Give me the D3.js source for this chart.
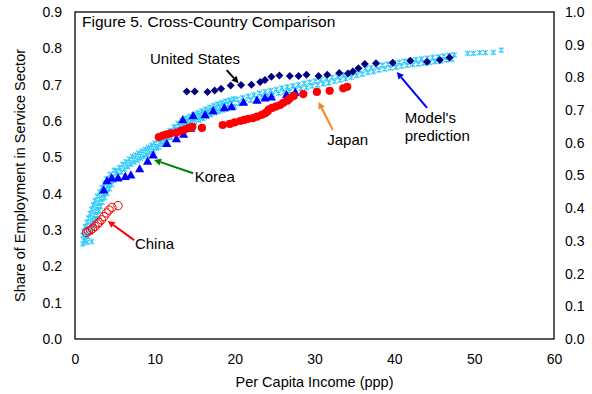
<!DOCTYPE html>
<html>
<head>
<meta charset="utf-8">
<script src="https://cdn.jsdelivr.net/npm/d3@7"></script>
<style>
  body { margin: 0; background: #fff; }
  text { font-family: Arial, "Liberation Sans", sans-serif; fill: #000; }
</style>
</head>
<body>
<svg id="chart" width="592" height="394"></svg>
<script>
// ---- data ----------------------------------------------------------------
const xTicks = [0, 10, 20, 30, 40, 50, 60];
const yTicksLeft = [0, 0.1, 0.2, 0.3, 0.4, 0.5, 0.6, 0.7, 0.8, 0.9];
const yTicksRight = [0, 0.1, 0.2, 0.3, 0.4, 0.5, 0.6, 0.7, 0.8, 0.9, 1.0];

// [per capita income (ppp, thousands), share of employment in services]
const unitedStates = [
  [14.0,0.681],[15.0,0.681],[16.6,0.680],[17.5,0.684],[18.3,0.689],[19.5,0.698],
  [20.8,0.699],[22.1,0.700],[23.2,0.707],[23.8,0.713],[24.6,0.722],[25.6,0.725],
  [26.9,0.724],[28.0,0.724],[29.0,0.727],[30.5,0.724],[31.6,0.727],[33.1,0.732],
  [34.2,0.731],[34.8,0.736],[35.5,0.745],[36.3,0.757],[37.7,0.759],[39.8,0.760],
  [42.0,0.766],[44.1,0.763],[45.7,0.768],[46.9,0.775]
];

const japan = [
  [10.5,0.556],[11.0,0.560],[11.5,0.563],[12.0,0.566],[12.7,0.568],[13.3,0.573],
  [13.8,0.577],[14.3,0.581],[14.7,0.584],[15.9,0.581],[18.5,0.589],[19.4,0.592],
  [20.0,0.596],[20.7,0.600],[21.2,0.603],[21.7,0.606],[22.3,0.608],[22.8,0.612],
  [23.4,0.617],[23.8,0.621],[24.1,0.626],[24.3,0.632],[24.7,0.636],[25.2,0.640],
  [25.7,0.644],[26.1,0.650],[26.6,0.656],[26.9,0.662],[27.4,0.669],[28.6,0.674],
  [30.3,0.680],[31.9,0.683],[33.6,0.690],[34.1,0.694]
];

const korea = [
  [3.6,0.410],[4.0,0.435],[4.6,0.443],[5.4,0.443],[6.3,0.447],[7.0,0.451],
  [8.1,0.468],[9.1,0.489],[9.8,0.506],[11.5,0.538],[12.7,0.551],[13.6,0.563],
  [14.5,0.580],[13.5,0.603],[14.8,0.614],[16.3,0.617],[17.3,0.628],[18.7,0.636],
  [19.6,0.639],[21.1,0.651],[22.8,0.657],[23.8,0.663],[24.6,0.666],[26.5,0.672],
  [27.6,0.678]
];

const china = [
  [1.44,0.293],[1.69,0.297],[1.94,0.300],[2.19,0.304],[2.51,0.310],[2.82,0.317],
  [3.01,0.321],[3.32,0.328],[3.63,0.337],[3.95,0.347],[4.26,0.355],[4.63,0.362],
  [5.39,0.367]
];

const modelPrediction = [
  // low-income stretch
  [1.0,0.285],[1.1,0.297],[1.3,0.309],[1.5,0.321],[1.7,0.333],[1.9,0.345],[2.1,0.357],
  [2.3,0.369],[2.5,0.381],[2.8,0.393],[3.1,0.405],[3.4,0.417],[3.7,0.429],[4.0,0.441],
  [4.4,0.453],[4.9,0.465],
  [1.3,0.272],[1.6,0.282],[1.9,0.293],[2.2,0.305],[2.4,0.317],[2.6,0.329],[2.8,0.341],
  [3.0,0.353],[3.2,0.365],[3.4,0.377],[3.7,0.389],[4.0,0.401],[4.3,0.413],[4.6,0.425],
  [4.9,0.437],[5.3,0.449],
  [1.1,0.270],[1.4,0.284],[1.7,0.300],[2.0,0.315],[2.2,0.328],[2.4,0.341],[2.6,0.352],
  [2.8,0.365],[3.0,0.376],[3.3,0.388],[3.6,0.400],[3.9,0.412],[4.2,0.424],[4.5,0.436],
  [4.8,0.446],
  [2.1,0.268],[1.0,0.262],[1.5,0.266],
  // middle stretch
  [5.2,0.463],[5.6,0.472],[6.0,0.481],[6.4,0.488],[6.8,0.495],[7.2,0.502],[7.6,0.506],
  [8.0,0.512],[8.4,0.517],[8.8,0.522],[9.2,0.527],[9.6,0.533],[10.0,0.539],
  [5.4,0.450],[5.8,0.459],[6.2,0.467],[6.6,0.474],[7.0,0.481],[7.4,0.487],[7.8,0.492],
  [8.2,0.497],[8.6,0.502],[9.0,0.507],[9.4,0.513],[9.8,0.519],[10.2,0.525],
  [10.4,0.548],[10.9,0.556],[11.4,0.565],[11.9,0.574],[12.4,0.584],[12.9,0.594],[13.4,0.601],
  [13.9,0.608],[14.4,0.613],[14.9,0.618],[15.4,0.623],[15.9,0.628],[16.4,0.633],[16.9,0.638],
  [17.4,0.643],[17.9,0.647],[18.4,0.651],[18.9,0.655],[19.4,0.658],[19.9,0.661],
  [10.65,0.541],[11.15,0.550],[11.65,0.559],[12.15,0.568],[12.65,0.578],[13.15,0.587],
  [13.65,0.594],[14.15,0.600],[14.65,0.605],[15.15,0.610],[15.65,0.615],[16.15,0.620],
  [16.65,0.625],[17.15,0.630],[17.65,0.634],[18.15,0.638],[18.65,0.642],[19.15,0.646],
  [19.65,0.649],
  [10.5,0.528],[11.0,0.536],[11.5,0.545],[12.0,0.554],[12.5,0.564],[13.0,0.574],[13.5,0.580],
  [14.0,0.587],[14.5,0.592],[15.0,0.597],[15.5,0.602],[16.0,0.607],[16.5,0.612],[17.0,0.617],
  [17.5,0.622],[18.0,0.626],[18.5,0.630],[19.0,0.634],[19.5,0.637],[20.0,0.640],
  // high-income stretch
  [20.3,0.660],[21.0,0.664],[21.7,0.668],[22.4,0.672],[23.1,0.677],[23.8,0.681],[24.5,0.684],
  [25.2,0.687],[25.9,0.691],[26.6,0.694],[27.3,0.697],[28.0,0.700],[28.7,0.704],[29.4,0.707],
  [30.1,0.710],[30.8,0.714],[31.5,0.717],[32.2,0.720],[32.9,0.723],[33.6,0.727],[34.3,0.731],
  [35.0,0.735],[35.7,0.740],[36.4,0.744],[37.1,0.747],[37.8,0.751],[38.5,0.754],[39.2,0.757],
  [39.9,0.760],[40.6,0.762],[41.3,0.765],[42.0,0.767],[42.7,0.769],[43.4,0.771],[44.1,0.773],
  [44.8,0.775],[45.5,0.777],[46.2,0.779],[46.9,0.781],[47.5,0.782],
  [20.6,0.648],[21.3,0.652],[22.0,0.657],[22.7,0.661],[23.4,0.666],[24.1,0.669],[24.8,0.672],
  [25.5,0.676],[26.2,0.679],[26.9,0.682],[27.6,0.686],[28.3,0.689],[29.0,0.692],[29.7,0.696],
  [30.4,0.699],[31.1,0.702],[31.8,0.705],[32.5,0.709],[33.2,0.712],[33.9,0.716],[34.6,0.720],
  [35.3,0.725],[36.0,0.729],[36.7,0.733],[37.4,0.736],[38.1,0.740],[38.8,0.743],[39.5,0.746],
  [40.2,0.748],[40.9,0.751],[41.6,0.753],[42.3,0.755],[43.0,0.757],[43.7,0.759],[44.4,0.761],
  [45.1,0.763],[45.8,0.765],[46.5,0.768],[47.2,0.770],
  [49.2,0.786],[49.9,0.786],[50.7,0.788],[51.4,0.788],[52.4,0.789],[53.4,0.795]
];

// callouts: label lines, label anchor and arrow (tail -> head), in data units
const callouts = [
  { lines: ["United States"], at: [9.4, 0.757], from: [19.0, 0.740], to: [20.5, 0.704], color: "#000000" },
  { lines: ["Japan"], at: [31.6, 0.534], from: [32.3, 0.575], to: [30.5, 0.653], color: "#F7861E" },
  { lines: ["Model's", "prediction"], at: [41.3, 0.595], from: [44.1, 0.636], to: [40.3, 0.735], color: "#0000FF" },
  { lines: ["Korea"], at: [15.0, 0.432], from: [14.8, 0.456], to: [9.9, 0.493], color: "#008000" },
  { lines: ["China"], at: [7.5, 0.248], from: [7.4, 0.272], to: [4.1, 0.325], color: "#FF0000" }
];

// ---- layout --------------------------------------------------------------
const svg = d3.select("#chart");
const plot = { left: 75, top: 12, right: 554, bottom: 339 };

const x = d3.scaleLinear().domain([0, 60]).range([plot.left, plot.right]);
const y = d3.scaleLinear().domain([0, 0.9]).range([plot.bottom, plot.top]);
const yRight = d3.scaleLinear().domain([0, 1.0]).range([plot.bottom, plot.top]);
const fmt = d3.format(".1f");

// axes (labels only, no tick marks)
const gx = svg.append("g").attr("transform", `translate(0,${plot.bottom})`)
  .call(d3.axisBottom(x).tickValues(xTicks).tickSize(0).tickPadding(15));
const gy = svg.append("g").attr("transform", `translate(${plot.left},0)`)
  .call(d3.axisLeft(y).tickValues(yTicksLeft).tickFormat(fmt).tickSize(0).tickPadding(13));
const gy2 = svg.append("g").attr("transform", `translate(${plot.right},0)`)
  .call(d3.axisRight(yRight).tickValues(yTicksRight).tickFormat(fmt).tickSize(0).tickPadding(11));
[gx, gy, gy2].forEach(g => {
  g.select(".domain").remove();
  g.selectAll("text").attr("font-size", 14).attr("font-family", "Arial, 'Liberation Sans', sans-serif").attr("fill", "#000");
});

// plot frame
svg.append("rect")
  .attr("x", plot.left).attr("y", plot.top)
  .attr("width", plot.right - plot.left).attr("height", plot.bottom - plot.top)
  .attr("fill", "none").attr("stroke", "#000").attr("stroke-width", 1.3);

// axis titles
svg.append("text")
  .attr("x", (plot.left + plot.right) / 2).attr("y", 387)
  .attr("text-anchor", "middle").attr("font-size", 14.5)
  .text("Per Capita Income (ppp)");
svg.append("text")
  .attr("transform", `translate(25,${(plot.top + plot.bottom) / 2}) rotate(-90)`)
  .attr("text-anchor", "middle").attr("font-size", 14.5)
  .text("Share of Employment in Service Sector");

// chart title inside the frame
svg.append("text")
  .attr("x", 82).attr("y", 27).attr("font-size", 15.5)
  .text("Figure 5. Cross-Country Comparison");

// ---- marks ---------------------------------------------------------------
const marks = svg.append("g");

// model prediction: light-blue asterisks
marks.append("g").selectAll("path").data(modelPrediction).join("path")
  .attr("transform", d => `translate(${x(d[0])},${y(d[1])})`)
  .attr("d", "M-2.5,-2.5L2.5,2.5M-2.5,2.5L2.5,-2.5M0,-2.8L0,2.8")
  .attr("stroke", "#33CCFF").attr("stroke-width", 1.2).attr("fill", "none");

// Korea: blue triangles
marks.append("g").selectAll("path").data(korea).join("path")
  .attr("transform", d => `translate(${x(d[0])},${y(d[1])})`)
  .attr("d", "M0,-4.8L4.6,3.4L-4.6,3.4Z")
  .attr("fill", "#0000FF");

// Japan: red dots
marks.append("g").selectAll("circle").data(japan).join("circle")
  .attr("cx", d => x(d[0])).attr("cy", d => y(d[1])).attr("r", 4.1)
  .attr("fill", "#FF0000");

// United States: navy diamonds
marks.append("g").selectAll("path").data(unitedStates).join("path")
  .attr("transform", d => `translate(${x(d[0])},${y(d[1])})`)
  .attr("d", "M0,-4L4,0L0,4L-4,0Z")
  .attr("fill", "#000080");

// China: open red circles
marks.append("g").selectAll("circle").data(china).join("circle")
  .attr("cx", d => x(d[0])).attr("cy", d => y(d[1])).attr("r", 4.2)
  .attr("fill", "none").attr("stroke", "#FF0000").attr("stroke-width", 1);

// ---- callouts ------------------------------------------------------------
const ann = svg.append("g");
callouts.forEach(c => {
  const x1 = x(c.from[0]), y1 = y(c.from[1]);
  const x2 = x(c.to[0]), y2 = y(c.to[1]);
  const ang = Math.atan2(y2 - y1, x2 - x1);
  const headLen = 7, headW = 3.5;
  const bx = x2 - headLen * Math.cos(ang), by = y2 - headLen * Math.sin(ang);
  ann.append("line")
    .attr("x1", x1).attr("y1", y1).attr("x2", bx).attr("y2", by)
    .attr("stroke", c.color).attr("stroke-width", 2);
  const px = -Math.sin(ang) * headW, py = Math.cos(ang) * headW;
  ann.append("path")
    .attr("d", `M${x2},${y2}L${bx + px},${by + py}L${bx - px},${by - py}Z`)
    .attr("fill", c.color);
  const t = ann.append("text")
    .attr("x", x(c.at[0])).attr("y", y(c.at[1])).attr("font-size", 15);
  c.lines.forEach((line, i) => {
    t.append("tspan").attr("x", x(c.at[0])).attr("dy", i === 0 ? 0 : 18).text(line);
  });
});
</script>
</body>
</html>
